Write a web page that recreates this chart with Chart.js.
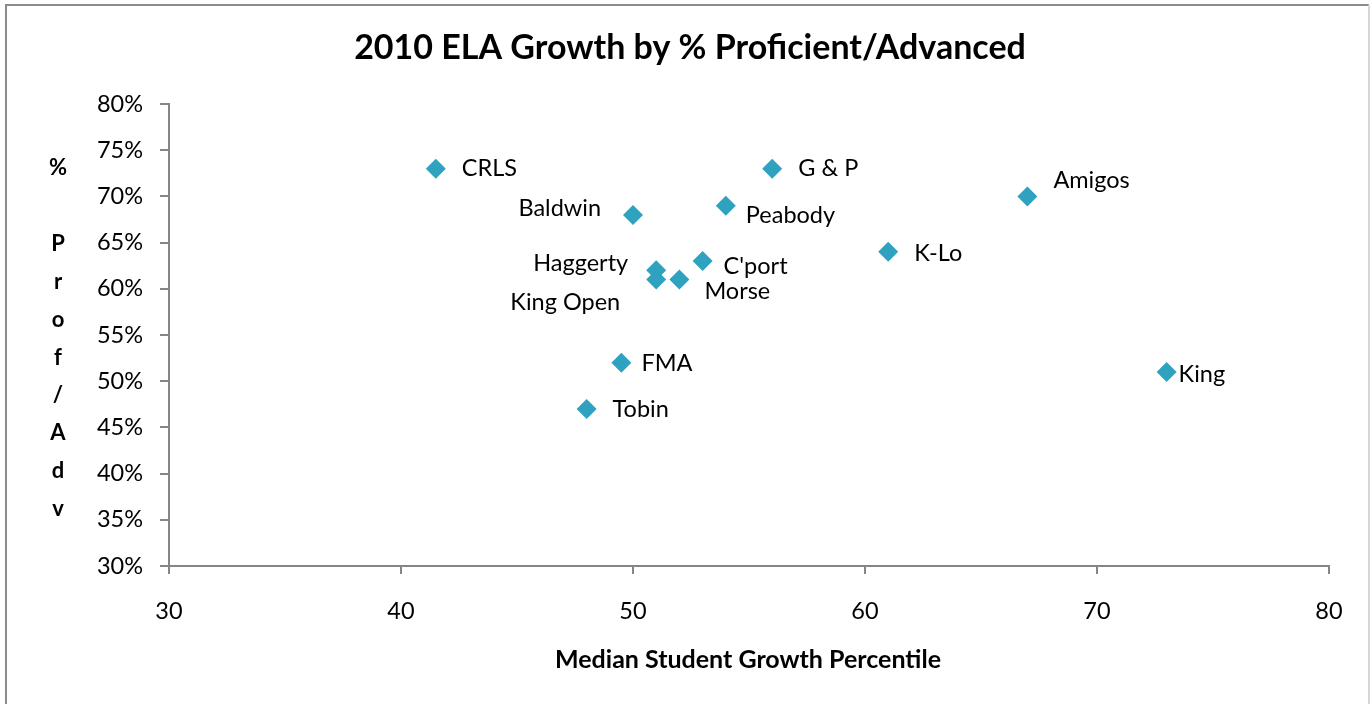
<!DOCTYPE html>
<html>
<head>
<meta charset="utf-8">
<script src="https://cdn.jsdelivr.net/npm/chart.js@4"></script>
<style>
  html, body { margin: 0; padding: 0; background: #fff; }
  #wrap { width: 1372px; height: 704px; position: relative; }
</style>
</head>
<body>
<div id="wrap"><canvas id="elaChart" width="1372" height="704"></canvas></div>
<script>
// School names and values
const schools = ['CRLS', 'Baldwin', 'G & P', 'Peabody', 'Amigos', 'K-Lo', 'Haggerty',
  'King Open', 'Morse', "C'port", 'FMA', 'Tobin', 'King'];
const medianGrowth = [41.5, 50, 56, 54, 67, 61, 51, 51, 52, 53, 49.5, 48, 73];
const pctProficient = [0.73, 0.68, 0.73, 0.69, 0.70, 0.64, 0.62, 0.61, 0.61, 0.63, 0.52, 0.47, 0.51];
const xTicks = [30, 40, 50, 60, 70, 80];
const yTicks = [0.30, 0.35, 0.40, 0.45, 0.50, 0.55, 0.60, 0.65, 0.70, 0.75, 0.80];

const FONT = 'Lato, "Open Sans", sans-serif';
const AXIS_GRAY = '#868686';

// where each data label sits relative to its marker (dx, dy, alignment)
const labelPos = {
  'CRLS': [26, 0, 'left'], 'G & P': [26, 0, 'left'], 'Amigos': [26, -16, 'left'],
  'Baldwin': [-32, -6, 'right'], 'Peabody': [20, 10, 'left'], 'K-Lo': [26, 2, 'left'],
  'Haggerty': [-28, -7, 'right'], "C'port": [21, 5, 'left'], 'Morse': [25, 12, 'left'],
  'King Open': [-36, 23, 'right'], 'FMA': [20, 1, 'left'], 'Tobin': [26, 1, 'left'],
  'King': [12, 2, 'left']
};

const points = medianGrowth.map((g, i) => ({ x: g, y: pctProficient[i], name: schools[i] }));

const decorPlugin = {
  id: 'decor',
  afterDatasetsDraw(chart) {
    const ctx = chart.ctx;
    const meta = chart.getDatasetMeta(0);
    ctx.save();
    ctx.fillStyle = '#000';
    ctx.font = '23.5px ' + FONT;
    ctx.textBaseline = 'middle';
    meta.data.forEach((el, i) => {
      const p = labelPos[schools[i]] || [20, 0, 'left'];
      ctx.textAlign = p[2];
      ctx.fillText(schools[i], el.x + p[0], el.y + p[1]);
    });
    ctx.restore();
  },
  afterDraw(chart) {
    const ctx = chart.ctx;
    ctx.save();
    // outer frame
    ctx.strokeStyle = '#8c8c8c';
    ctx.lineWidth = 2;
    ctx.beginPath();
    ctx.moveTo(6, 710);
    ctx.lineTo(6, 5);
    ctx.lineTo(1369, 5);
    ctx.stroke();
    ctx.strokeStyle = '#d6d6d6';
    ctx.beginPath();
    ctx.moveTo(1369, 5);
    ctx.lineTo(1369, 710);
    ctx.stroke();

    ctx.fillStyle = '#000';
    ctx.textAlign = 'center';
    ctx.textBaseline = 'middle';
    ctx.font = 'bold 34px ' + FONT;
    ctx.fillText('2010 ELA Growth by % Proficient/Advanced', 690, 48);

    ctx.font = 'bold 25px ' + FONT;
    ctx.fillText('Median Student Growth Percentile', 748, 660);

    // stacked y-axis title
    const yTitle = ['%', '', 'P', 'r', 'o', 'f', '/', 'A', 'd', 'v'];
    ctx.font = 'bold 22px ' + FONT;
    yTitle.forEach((ch, i) => {
      if (ch) ctx.fillText(ch, 58, 168 + i * 37.9);
    });
    ctx.restore();
  }
};

new Chart(document.getElementById('elaChart'), {
  type: 'scatter',
  data: {
    datasets: [{
      data: points,
      pointStyle: 'rectRot',
      pointRadius: 10,
      pointHoverRadius: 10,
      pointBorderWidth: 0,
      backgroundColor: '#2EA2BF',
      borderColor: '#2EA2BF'
    }]
  },
  options: {
    responsive: false,
    animation: false,
    layout: { padding: { top: 104, right: 43, left: 0, bottom: 0 } },
    plugins: {
      legend: { display: false },
      tooltip: { enabled: false },
      title: { display: false }
    },
    scales: {
      x: {
        type: 'linear',
        min: xTicks[0],
        max: xTicks[xTicks.length - 1],
        afterFit(scale) { scale.height = 138; },
        afterBuildTicks(scale) { scale.ticks = xTicks.map(v => ({ value: v })); },
        grid: { drawOnChartArea: false, drawTicks: true, tickLength: 8, color: AXIS_GRAY, lineWidth: 2 },
        border: { display: true, color: AXIS_GRAY, width: 2 },
        ticks: { padding: 23, color: '#000', font: { family: FONT, size: 23.5 } }
      },
      y: {
        type: 'linear',
        min: yTicks[0],
        max: yTicks[yTicks.length - 1],
        afterFit(scale) { scale.width = 169; },
        afterBuildTicks(scale) { scale.ticks = yTicks.map(v => ({ value: v })); },
        grid: { drawOnChartArea: false, drawTicks: true, tickLength: 9, color: AXIS_GRAY, lineWidth: 2 },
        border: { display: true, color: AXIS_GRAY, width: 2 },
        ticks: {
          padding: 17,
          color: '#000',
          font: { family: FONT, size: 23.5 },
          callback: v => Math.round(v * 100) + '%'
        }
      }
    }
  },
  plugins: [decorPlugin]
});
</script>
</body>
</html>
